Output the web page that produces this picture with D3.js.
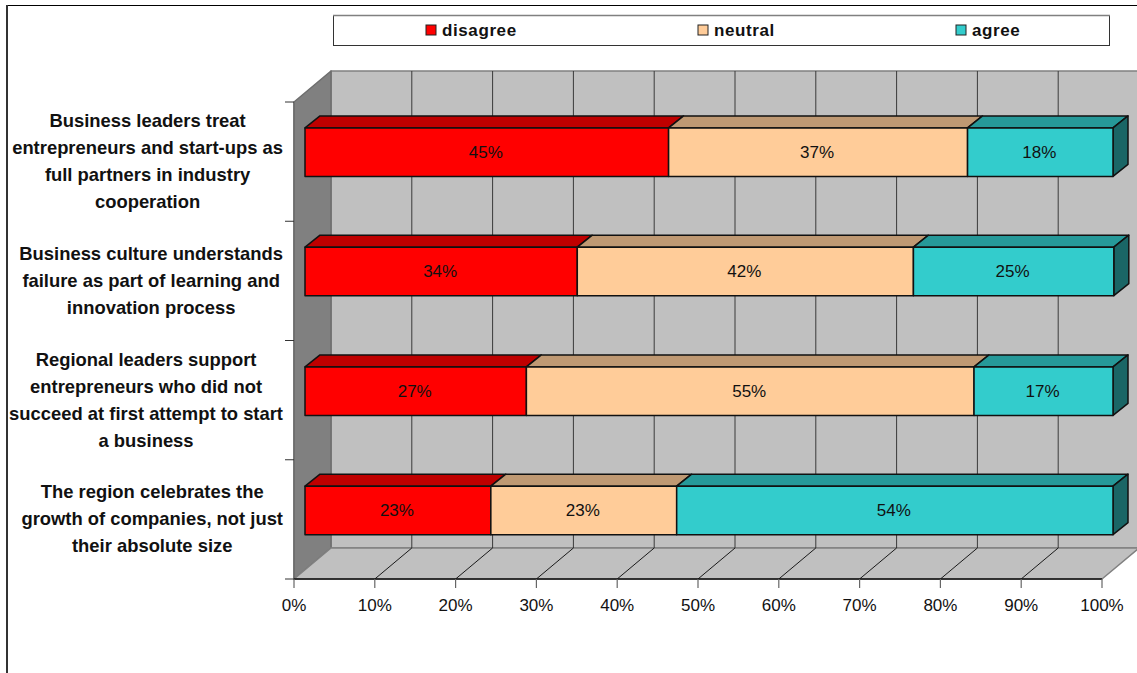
<!DOCTYPE html>
<html><head><meta charset="utf-8">
<style>html,body{margin:0;padding:0;background:#fff}svg{display:block}text{font-family:"Liberation Sans",Arial,sans-serif}</style>
<script src="https://cdn.jsdelivr.net/npm/d3@7"></script></head><body><div id="c"></div>
<script>
const categories=[
 ["Business leaders treat","entrepreneurs and start-ups as","full partners in industry","cooperation"],
 ["Business culture understands","failure as part of learning and","innovation process"],
 ["Regional leaders support","entrepreneurs who did not","succeed at first attempt to start","a business"],
 ["The region celebrates the","growth of companies, not just","their absolute size"]];
const seriesNames=["disagree","neutral","agree"];
const disagree=[45,33.7,27.4,23];
const neutral=[37,41.6,55.4,23];
const agree=[18,24.8,17.2,54];
const shownDisagree=["45%","34%","27%","23%"];
const shownNeutral=["37%","42%","55%","23%"];
const shownAgree=["18%","25%","17%","54%"];
const tickValues=[0,10,20,30,40,50,60,70,80,90,100];
const fills=["#ff0000","#ffcc99","#33cccc"],tops=["#bf0000","#bf9973","#269999"],sides=["#800000","#80664d","#1a6666"];

const W=1137,H=673;
const svg=d3.select("#c").append("svg").attr("width",W).attr("height",H);
const x=d3.scaleLinear().domain([0,100]).range([294,1102]);
const y=d3.scaleBand().domain(d3.range(categories.length)).range([102,579]);
const dx=37,dy=-31, ox=11,oy=-9, bdx=15,bdy=-12;
const poly=(pts,f,s,w)=>svg.append("polygon").attr("points",pts.map(p=>p.join(",")).join(" ")).attr("fill",f).attr("stroke",s).attr("stroke-width",w).attr("stroke-linejoin","round");
const line=(a,b,c,d,s,w=1)=>svg.append("line").attr("x1",a).attr("y1",b).attr("x2",c).attr("y2",d).attr("stroke",s).attr("stroke-width",w);

// chart frame
svg.append("path").attr("d",`M6 5.5H1137`).attr("fill","none").attr("stroke","#000").attr("stroke-width",1);
line(7,5,7,673,"#333",2);

// walls
const yT=y.range()[0],yB=y.range()[1],x0=x(0),x1=x(100);
poly([[x0+dx,yT+dy],[W+4,yT+dy],[W+4,yB+dy],[x0+dx,yB+dy]],"#c0c0c0","#808080",1.5);
poly([[x0,yT],[x0+dx,yT+dy],[x0+dx,yB+dy],[x0,yB]],"#808080","#6e6e6e",1.5);
poly([[x0,yB],[x0+dx,yB+dy],[x1+dx,yB+dy],[x1,yB]],"#c0c0c0","#808080",1.5);
// gridlines
tickValues.slice(1,-1).forEach(t=>{
  line(x(t)+dx,yT+dy,x(t)+dx,yB+dy,"#3a3a3a");
  line(x(t),yB,x(t)+dx,yB+dy,"#1a1a1a");
});
// axes
line(x0,yT,x0,yB,"#6e6e6e",1.5);
line(x0,yB,x1,yB,"#111",1.5);
tickValues.forEach(t=>{
  line(x(t),yB,x(t),yB+9,"#666",1.2);
  svg.append("text").attr("x",x(t)).attr("y",yB+32).attr("text-anchor","middle").attr("font-size",17).attr("fill","#111").text(t+"%");
});
d3.range(5).forEach(i=>{const v=yT+i*y.step();line(x0-9,v,x0,v,"#333",1)});

// bars
const barH=48.5;
const bx=d3.scaleLinear().domain([0,100]).range([x0+ox,x1+ox]);
categories.forEach((c,i)=>{
  const top=y(i)+y.step()/2-barH/2+oy-0.5+(i>=2?0.5:0);
  let cum=0;
  [disagree,neutral,agree].forEach((arr,s)=>{
    const a=bx(cum),b=bx(cum+arr[i]);cum+=arr[i];
    poly([[a,top],[a+bdx,top+bdy],[b+bdx,top+bdy],[b,top]],tops[s],"#111",1.5);
    if(s===2) poly([[b,top],[b+bdx,top+bdy],[b+bdx,top+bdy+barH],[b,top+barH]],sides[s],"#111",1.5);
    poly([[a,top],[b,top],[b,top+barH],[a,top+barH]],fills[s],"#111",1.5);
  });
  cum=0;
  [[disagree,shownDisagree],[neutral,shownNeutral],[agree,shownAgree]].forEach(([arr,lab])=>{
    svg.append("text").attr("x",bx(cum+arr[i]/2)-1).attr("y",top+barH/2+6).attr("text-anchor","middle").attr("font-size",17).attr("fill","#111").text(lab[i]);
    cum+=arr[i];
  });
  // category label block: centred lines, widest line ending at a common right edge
  const t=svg.append("text").attr("text-anchor","middle").attr("font-size",18.4).attr("font-weight","bold").attr("fill","#111");
  const cy=y(i)+y.step()/2+6;
  const spans=c.map((l,k)=>t.append("tspan").attr("y",cy+(k-(c.length-1)/2)*27).text(l));
  const widest=d3.max(spans,s=>s.node().getComputedTextLength());
  spans.forEach(s=>s.attr("x",283-widest/2));
});

// legend
svg.append("rect").attr("x",333.5).attr("y",15.5).attr("width",776).attr("height",30).attr("fill","#fff").attr("stroke","#333").attr("stroke-width",1);
line(333,15.5,1110,15.5,"#808080",1.5);
const lx=[426,698,956];
seriesNames.forEach((n,i)=>{
  svg.append("rect").attr("x",lx[i]).attr("y",25).attr("width",10).attr("height",10).attr("fill",fills[i]).attr("stroke","#222").attr("stroke-width",1);
  svg.append("text").attr("x",lx[i]+16).attr("y",36).attr("font-size",17).attr("font-weight","bold").attr("letter-spacing","0.6").attr("fill","#111").text(n);
});
</script></body></html>
